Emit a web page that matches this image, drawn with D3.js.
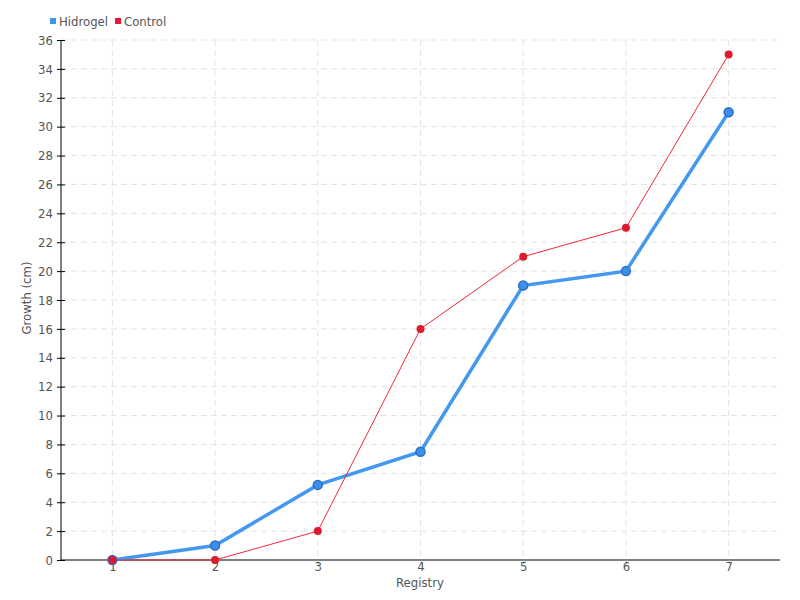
<!DOCTYPE html>
<html><head><meta charset="utf-8">
<script src="https://cdn.jsdelivr.net/npm/d3@7/dist/d3.min.js"></script>
<style>
body{margin:0;background:#fff;}
text{font-family:"DejaVu Sans Condensed","DejaVu Sans",sans-serif;font-stretch:condensed;fill:#555;}
</style></head><body>
<svg id="c" width="800" height="600"></svg>
<script>
const categories = ["1","2","3","4","5","6","7"];
const hidrogel = [0, 1, 5.2, 7.5, 19, 20, 31];
const control = [0, 0, 2, 16, 21, 23, 35];
const yTicks = d3.range(0, 37, 2);

const svg = d3.select("#c");
const L = 61, R = 780, T = 40, B = 560;
const x = d3.scalePoint().domain(categories).range([L, R]).padding(0.5);
const y = d3.scaleLinear().domain([0, 36]).range([B, T]);

// grid
const g = svg.append("g");
g.selectAll(".hg").data(yTicks.slice(1)).enter().append("line")
  .attr("x1", L).attr("x2", R).attr("y1", d=>y(d)).attr("y2", d=>y(d))
  .attr("stroke", "#e3e3e3").attr("stroke-dasharray", "6,4");
g.selectAll(".vg").data(categories).enter().append("line")
  .attr("x1", d=>x(d)).attr("x2", d=>x(d)).attr("y1", T).attr("y2", B)
  .attr("stroke", "#e3e3e3").attr("stroke-dasharray", "6,4");

// axes
const ya = svg.append("g").attr("transform", `translate(${L},0)`)
  .call(d3.axisLeft(y).tickValues(yTicks).tickSize(4).tickPadding(4));
ya.select(".domain").attr("stroke", "#000").attr("d", `M0,${T}V${B}`);
ya.selectAll(".tick line").attr("stroke", "#000").attr("x1", -4).attr("x2", 4);
ya.selectAll("text").style("font-size", "13px").attr("fill", "#555");

const xa = svg.append("g").attr("transform", `translate(0,${B})`)
  .call(d3.axisBottom(x).tickSize(4).tickPadding(-2));
xa.select(".domain").attr("stroke", "#000").attr("d", `M${L},0H${R}`);
xa.selectAll(".tick line").attr("stroke", "#aaa");
xa.selectAll("text").style("font-size", "13px").attr("fill", "#555");

svg.append("text").attr("x", 420).attr("y", 587).attr("text-anchor", "middle")
  .style("font-size", "13px").text("Registry");
svg.append("text").attr("transform", "translate(31,298) rotate(-90)").attr("text-anchor", "middle")
  .style("font-size", "13px").text("Growth (cm)");

const line = d3.line().x((d,i)=>x(categories[i])).y(d=>y(d));

// hidrogel
svg.append("path").datum(hidrogel).attr("d", line).attr("fill", "none")
  .attr("stroke", "#4499ee").attr("stroke-width", 3.5);
// control
svg.append("path").datum(control).attr("d", line).attr("fill", "none")
  .attr("stroke", "#f0283c").attr("stroke-width", 1);
svg.selectAll(".hp").data(hidrogel).enter().append("circle")
  .attr("cx", (d,i)=>x(categories[i])).attr("cy", d=>y(d)).attr("r", 4.5)
  .attr("fill", "#3d8fe8").attr("stroke", "#2a70c8").attr("stroke-width", 1.5);
svg.selectAll(".cp").data(control).enter().append("circle")
  .attr("cx", (d,i)=>x(categories[i])).attr("cy", d=>y(d)).attr("r", 4)
  .attr("fill", "#e01a2a");

// legend
const leg = svg.append("g");
leg.append("rect").attr("x", 50).attr("y", 18).attr("width", 6).attr("height", 6).attr("fill", "#3d95f0");
leg.append("text").attr("x", 59).attr("y", 26).style("font-size", "13px").text("Hidrogel");
leg.append("rect").attr("x", 115).attr("y", 18).attr("width", 6).attr("height", 6).attr("fill", "#ee1530");
leg.append("text").attr("x", 124).attr("y", 26).style("font-size", "13px").text("Control");
</script></body></html>
